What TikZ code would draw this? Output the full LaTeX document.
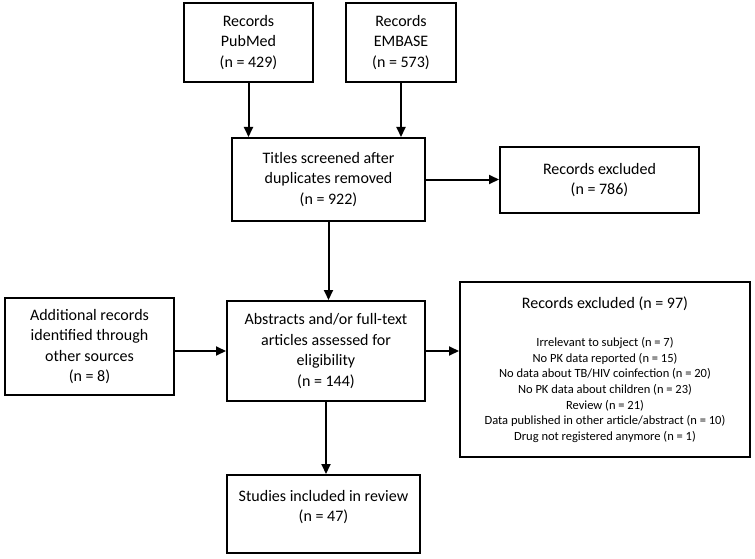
\documentclass[tikz,border=0pt]{standalone}
\usepackage{fontspec}
\setmainfont{Carlito}
\usetikzlibrary{arrows.meta}
\begin{document}
\begin{tikzpicture}[x=1pt,y=1pt,
  box/.style={draw=black,line width=2pt,rectangle,inner sep=0pt},
  txt/.style={align=center,font=\fontsize{16}{20.5}\selectfont},
  small/.style={align=center,font=\fontsize{12.5}{15.6}\selectfont},
  conn/.style={line width=2pt,-{Triangle[length=10pt,width=9pt]}}]
\useasboundingbox (0,0) rectangle (755,-559);
% boxes
\node[box,txt,minimum width=129pt,minimum height=79pt] (pub) at (248.5,-42.5) {Records\\PubMed\\(n = 429)};
\node[box,txt,line width=2.4pt,minimum width=110pt,minimum height=79pt] (emb) at (401,-42.5) {Records\\EMBASE\\(n = 573)};
\node[box,txt,minimum width=193pt,minimum height=83pt] (titles) at (328.5,-179.5) {Titles screened after\\duplicates removed\\(n = 922)};
\node[box,txt,minimum width=199pt,minimum height=66pt] (exc1) at (599.5,-180) {Records excluded\\(n = 786)};
\node[box,txt,minimum width=169pt,minimum height=97pt] (add) at (89.5,-346.5) {Additional records\\identified through\\other sources\\(n = 8)};
\node[box,txt,minimum width=198pt,minimum height=100pt] (abs) at (326,-351) {Abstracts and/or full-text\\articles assessed for\\eligibility\\(n = 144)};
\node[box,minimum width=290pt,minimum height=175pt] (exc2) at (605,-369.5) {};
\node[txt,font=\fontsize{16}{18}\selectfont] (exc2h) at (605,-304) {Records excluded (n = 97)};
\node[small] (exc2l) at (605,-390) {Irrelevant to subject (n = 7)\\No PK data reported (n = 15)\\No data about TB/HIV coinfection (n = 20)\\No PK data about children (n = 23)\\Review (n = 21)\\Data published in other article/abstract (n = 10)\\Drug not registered anymore (n = 1)};
\node[box,minimum width=193pt,minimum height=78pt] (stud) at (323.5,-514) {};
\node[txt] (studt) at (323.5,-507) {Studies included in review\\(n = 47)};
% connectors
\draw[conn] (pub.south) -- (pub.south |- titles.north);
\draw[conn] (emb.south) -- (emb.south |- titles.north);
\draw[conn] (titles.east) -- (titles.east -| exc1.west);
\draw[conn] (titles.south) -- (titles.south |- abs.north);
\draw[conn] (abs.west -| add.east) -- (abs.west);
\draw[conn] (abs.east) -- (abs.east -| exc2.west);
\draw[conn] (abs.south) -- (abs.south |- stud.north);
\end{tikzpicture}
\end{document}
